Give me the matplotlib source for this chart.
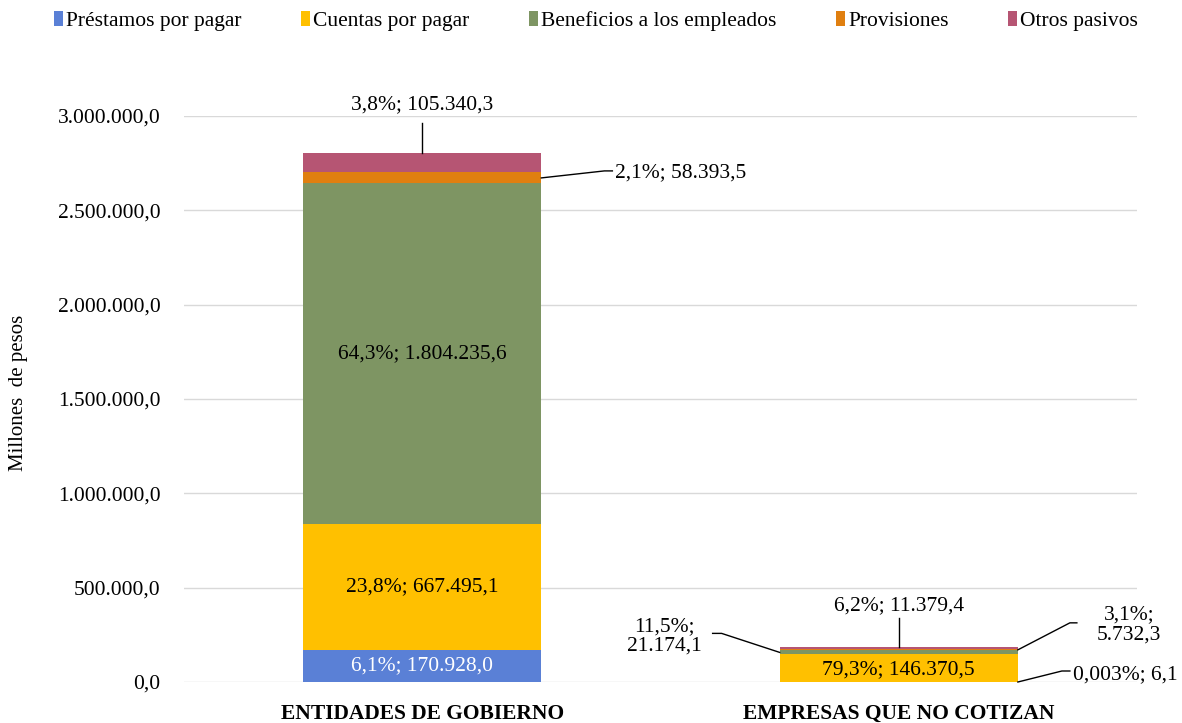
import matplotlib.pyplot as plt
import numpy as np
from matplotlib.lines import Line2D
from matplotlib.transforms import IdentityTransform

plt.rcParams["font.family"] = ["Liberation Serif", "DejaVu Serif"]

# data (millones de pesos)
CATEGORIES = ["ENTIDADES DE GOBIERNO", "EMPRESAS QUE NO COTIZAN"]
SERIES = ["Préstamos por pagar", "Cuentas por pagar", "Beneficios a los empleados",
          "Provisiones", "Otros pasivos"]
prestamos = [170928.0, 6.1]
cuentas = [667495.1, 146370.5]
beneficios = [1804235.6, 21174.1]
provisiones = [58393.5, 5732.3]
otros = [105340.3, 11379.4]
pct_prestamos = ["6,1%", "0,003%"]
pct_cuentas = ["23,8%", "79,3%"]
pct_beneficios = ["64,3%", "11,5%"]
pct_provisiones = ["2,1%", "3,1%"]
pct_otros = ["3,8%", "6,2%"]

COLORS = ["#5A80D6", "#FFC000", "#7E9563", "#E07F10", "#B65573"]
FS = 15.5
BAR_W = 0.5

# label placement per (series, category):
# anchor, leader line offsets (px), text offset (px), ha, split in two lines
LABEL_STYLE = {
    (0, 0): ("center", None, (0, 0), "center", False),
    (1, 0): ("center", None, (0, 0), "center", False),
    (2, 0): ("center", None, (0, 0), "center", False),
    (3, 0): ("right", [(63, 7), (71, 7)], (74, 5), "left", False),
    (4, 0): ("top", [(0, 30)], (0, 48), "center", False),
    (0, 1): ("right_bottom", [(44, 11), (52, 11)], (55, 7), "left", False),
    (1, 1): ("center", None, (0, -2), "center", False),
    (2, 1): ("left", [(-58, 19), (-67, 19)], (-115, 16), "center", True),
    (3, 1): ("right", [(52, 27), (59, 27)], (111, 25), "center", True),
    (4, 1): ("top", [(0, 29)], (0, 41), "center", False),
}


def fmt_num(v):
    s = f"{v:,.1f}"
    return s.replace(",", "X").replace(".", ",").replace("X", ".")


fig = plt.figure(figsize=(11.82, 7.23), dpi=100)
ax = fig.add_axes([184 / 1182, 41 / 723, 953 / 1182, 566 / 723])

data = np.array([prestamos, cuentas, beneficios, provisiones, otros])
pcts = [pct_prestamos, pct_cuentas, pct_beneficios, pct_provisiones, pct_otros]
x = np.arange(len(CATEGORIES))
bottoms = np.zeros(len(CATEGORIES))
handles = []
for i, name in enumerate(SERIES):
    b = ax.bar(x, data[i], BAR_W, bottom=bottoms, color=COLORS[i], label=name, zorder=2)
    handles.append(b)
    bottoms = bottoms + data[i]

ax.set_xlim(-0.5, 1.5)
ax.set_ylim(0, 3000000)
ax.set_yticks(np.arange(0, 3000001, 500000))
ax.set_yticklabels([fmt_num(v) for v in np.arange(0, 3000001, 500000)], fontsize=FS)
ax.set_xticks(x)
ax.set_xticklabels(CATEGORIES, fontsize=FS, fontweight="bold")
ax.tick_params(axis="both", length=0)
ax.tick_params(axis="y", pad=17)
ax.tick_params(axis="x", pad=16)
ax.grid(axis="y", color="#D9D9D9", linewidth=1.0, zorder=0)
ax.set_axisbelow(True)
for s in ax.spines.values():
    s.set_visible(False)

# data labels
cum = np.cumsum(data, axis=0)
for (si, ci), (anchor, line, toff, ha, split) in LABEL_STYLE.items():
    val = data[si, ci]
    top = cum[si, ci]
    bot = top - val
    mid = bot + val / 2
    if anchor == "center":
        xy = (x[ci], mid)
    elif anchor == "right":
        xy = (x[ci] + BAR_W / 2, mid)
    elif anchor == "right_bottom":
        xy = (x[ci] + BAR_W / 2, bot)
    elif anchor == "left":
        xy = (x[ci] - BAR_W / 2, mid)
    else:
        xy = (x[ci], cum[-1, ci])
    sep = ";\n" if split else "; "
    label = pcts[si][ci] + sep + fmt_num(val)
    color = "white" if (si, ci) == (0, 0) else "black"
    ax.annotate(label, xy=xy, xytext=toff, textcoords="offset pixels",
                ha=ha, va="center", fontsize=FS, color=color,
                linespacing=1.05, zorder=5)
    if line:
        px, py = ax.transData.transform(xy)
        xs = [px] + [px + dx for dx, dy in line]
        ys = [py] + [py + dy for dx, dy in line]
        fig.add_artist(Line2D(xs, ys, transform=IdentityTransform(),
                              color="black", linewidth=1.0))

fig.text(19 / 1182, 1 - 393 / 723, "Millones  de pesos", rotation=90,
         ha="center", va="center", fontsize=15)

fig.legend(handles, SERIES, loc="center", bbox_to_anchor=(596 / 1182, 1 - 21 / 723),
           ncol=5, frameon=False, fontsize=FS, handlelength=0.4, handleheight=0.65,
           handletextpad=0.15, columnspacing=2.78)

fig.savefig("out.png", dpi=100)
